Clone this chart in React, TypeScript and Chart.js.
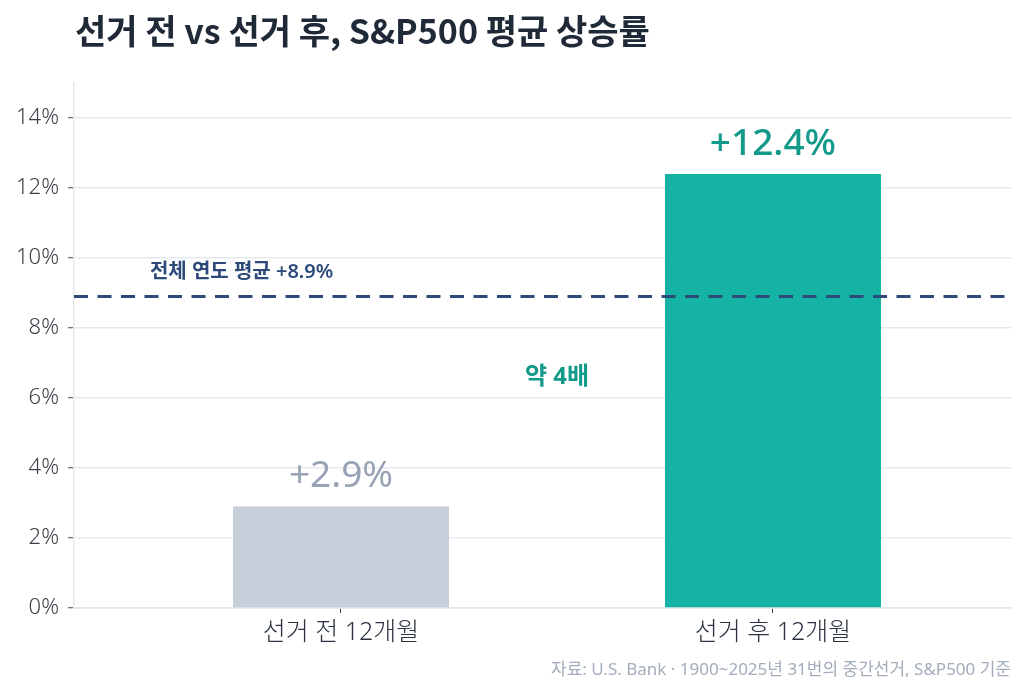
import { useEffect, useRef } from 'react';
import { Chart, registerables } from 'chart.js';

Chart.register(...registerables);

// 데이터
const categories = ['선거 전 12개월', '선거 후 12개월'];
const values = [2.9, 12.4];
const valueLabels = ['+2.9%', '+12.4%'];
const avgValue = 8.9;
const avgLabel = '전체 연도 평균 +8.9%';
const ratioLabel = '약 4배';
const yTickStep = 2;
const yMax = 15;

const titleText = '선거 전 vs 선거 후, S&P500 평균 상승률';
const sourceText = '자료: U.S. Bank · 1900~2025년 31번의 중간선거, S&P500 기준';

const FONT = "'Noto Sans', 'Noto Sans CJK KR', sans-serif";
const TITLE_FONT = "'Noto Sans CJK KR', sans-serif";
const barColors = ['#c7d0da', '#14b3a6'];
const labelColors = ['#97a3b4', '#11998a'];
const navy = '#2d4a7a';

// 주석 위치 (데이터 좌표)
const avgLabelPos = { x: -0.23, y: 9.6 };
const ratioLabelPos = { x: 0.5, y: 6.6 };

const annotations = {
  id: 'annotations',
  afterDatasetsDraw(chart: Chart) {
    const { ctx, chartArea, scales } = chart;
    const x = scales.x;
    const y = scales.y;
    ctx.save();

    // 평균선
    const yAvg = y.getPixelForValue(avgValue);
    ctx.strokeStyle = navy;
    ctx.lineWidth = 3;
    ctx.setLineDash([14, 9.5]);
    ctx.beginPath();
    ctx.moveTo(chartArea.left, yAvg);
    ctx.lineTo(chartArea.right, yAvg);
    ctx.stroke();
    ctx.setLineDash([]);

    ctx.textAlign = 'center';
    ctx.textBaseline = 'middle';
    ctx.fillStyle = navy;
    ctx.font = `600 20px ${FONT}`;
    ctx.fillText(avgLabel, x.getPixelForValue(avgLabelPos.x), y.getPixelForValue(avgLabelPos.y));

    ctx.fillStyle = '#11998a';
    ctx.font = `bold 24px ${FONT}`;
    ctx.fillText(ratioLabel, x.getPixelForValue(ratioLabelPos.x), y.getPixelForValue(ratioLabelPos.y));

    // 막대 값 라벨
    const meta = chart.getDatasetMeta(0);
    meta.data.forEach((bar: any, i: number) => {
      ctx.fillStyle = labelColors[i];
      ctx.font = `${i === 1 ? '500' : 'normal'} 37px ${FONT}`;
      ctx.fillText(valueLabels[i], bar.x, bar.y - 30);
    });
    ctx.restore();
  },
  afterDraw(chart: Chart) {
    const { ctx, chartArea } = chart;
    ctx.save();
    ctx.textBaseline = 'middle';
    ctx.textAlign = 'left';
    ctx.fillStyle = '#1f2937';
    ctx.font = `bold 34px ${TITLE_FONT}`;
    ctx.fillText(titleText, 75, 31);

    ctx.textAlign = 'right';
    ctx.fillStyle = '#a3adbb';
    ctx.font = `17px ${FONT}`;
    ctx.fillText(sourceText, chartArea.right, 670);
    ctx.restore();
  },
};

export default function App() {
  const canvasRef = useRef<HTMLCanvasElement>(null);

  useEffect(() => {
    document.body.style.margin = '0';
    if (!canvasRef.current) return;

    const chart = new Chart(canvasRef.current, {
      type: 'bar',
      data: {
        datasets: [
          {
            data: values.map((v, i) => ({ x: i, y: v })),
            backgroundColor: barColors,
            borderWidth: 0,
            barPercentage: 0.5,
            categoryPercentage: 1,
          },
        ],
      },
      options: {
        responsive: true,
        maintainAspectRatio: false,
        animation: false,
        layout: { padding: { top: 83, right: 13, left: 0, bottom: 0 } },
        plugins: {
          legend: { display: false },
          tooltip: { enabled: false },
        },
        scales: {
          x: {
            type: 'linear',
            min: -0.618,
            max: 1.551,
            offset: false,
            afterBuildTicks: (scale: any) => {
              scale.ticks = categories.map((_, i) => ({ value: i }));
            },
            afterFit: (scale: any) => {
              scale.height = 85;
            },
            grid: {
              offset: false,
              drawOnChartArea: false,
              tickLength: 5,
              tickColor: '#333',
              tickWidth: 1,
            },
            border: { color: '#e3e7ec', width: 1.5 },
            ticks: {
              autoSkip: false,
              maxRotation: 0,
              padding: 5,
              color: '#2b3340',
              font: { family: FONT, size: 25, weight: '300' },
              callback: (v: any) => categories[v] ?? '',
            },
          },
          y: {
            min: 0,
            max: yMax,
            afterFit: (scale: any) => {
              scale.width = 74;
            },
            grid: {
              color: '#e6e9ee',
              lineWidth: 1.5,
              tickLength: 6,
              tickColor: '#444',
              tickWidth: 1,
            },
            border: { color: '#e3e7ec', width: 1.5 },
            ticks: {
              stepSize: yTickStep,
              includeBounds: false,
              padding: 9,
              color: '#3a3f47',
              font: { family: FONT, size: 22, weight: '300' },
              callback: (v: any) => `${v}%`,
            },
          },
        },
      },
      plugins: [annotations],
    });

    return () => chart.destroy();
  }, []);

  return (
    <div style={{ width: 1024, height: 693, position: 'relative', background: '#fff' }}>
      <canvas ref={canvasRef} />
    </div>
  );
}
